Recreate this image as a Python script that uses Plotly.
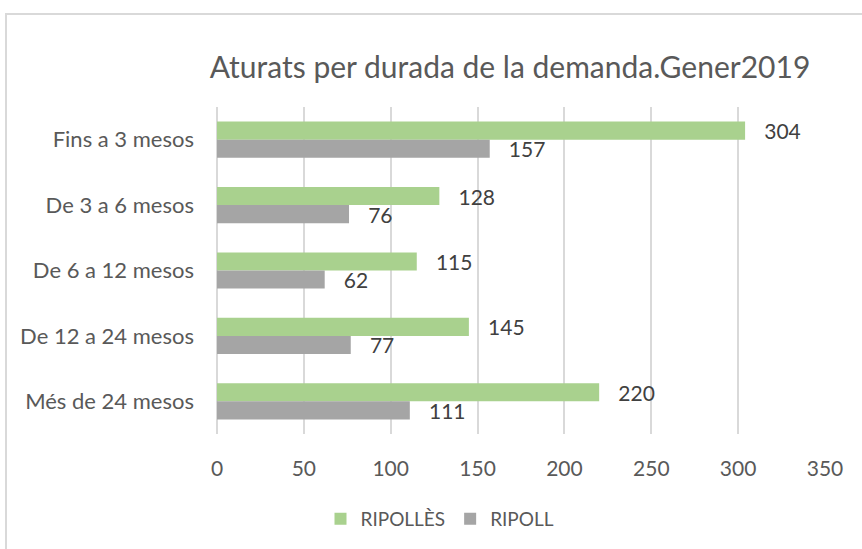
import plotly.graph_objects as go

categories = ["Fins a 3 mesos", "De 3 a 6 mesos", "De 6 a 12 mesos", "De 12 a 24 mesos", "Més de 24 mesos"]
ripolles = [304, 128, 115, 145, 220]
ripoll = [157, 76, 62, 77, 111]
x_ticks = [0, 50, 100, 150, 200, 250, 300, 350]

FONT = "Lato"
fig = go.Figure()
for name, vals, color in [("RIPOLLÈS", ripolles, "#A9D18E"), ("RIPOLL", ripoll, "#A5A5A5")]:
    fig.add_trace(go.Bar(
        y=categories, x=vals, name=name, orientation="h",
        marker=dict(color=color, line=dict(width=0)),
        text=vals, texttemplate="   %{x}", textposition="outside",
        constraintext="none", cliponaxis=False,
        textfont=dict(family=FONT, size=21, color="#404040"),
    ))

L, R, T, B = 217, 37, 107, 115
W, H = 862, 549
pw, ph = W - L - R, H - T - B
x0 = (6 - L) / pw
x1 = (W + 20 - L) / pw
y1 = (H - B - 14) / ph
y0 = (H - B - (H + 20)) / ph

fig.update_layout(
    width=W, height=H,
    margin=dict(l=L, r=R, t=T, b=B, autoexpand=False),
    paper_bgcolor="white", plot_bgcolor="white",
    barmode="group", bargap=0.446, bargroupgap=0,
    title=dict(text="Aturats per durada de la demanda.Gener2019", x=510 / W, xanchor="center",
               y=1 - 67 / H, yanchor="middle",
               font=dict(family=FONT, size=30, color="#595959")),
    font=dict(family=FONT, color="#595959"),
    xaxis=dict(range=[0, 350], tickvals=x_ticks, showgrid=True, gridcolor="#D9D9D9", gridwidth=1.5,
               zeroline=True, zerolinecolor="#D9D9D9", zerolinewidth=1.5, showline=False,
               automargin=False,
               tickfont=dict(family=FONT, size=21, color="#595959"), ticklabelstandoff=20),
    yaxis=dict(autorange="reversed", showgrid=False, showline=False, automargin=False,
               tickfont=dict(family=FONT, size=22, color="#595959"), ticklabelstandoff=22),
    legend=dict(orientation="h", x=(440 - L) / pw, xanchor="center", y=(H - B - 519) / ph,
                yanchor="middle",
                font=dict(family=FONT, size=19, color="#595959"), itemwidth=30),
    shapes=[dict(type="rect", xref="paper", yref="paper", x0=x0, x1=x1, y0=y0, y1=y1,
                 line=dict(color="#D9D9D9", width=2), fillcolor="rgba(0,0,0,0)", layer="below")],
)

fig.write_html("out.html", config={"displayModeBar": False},
               post_script="document.body.style.margin='0';document.body.style.overflow='hidden';")
